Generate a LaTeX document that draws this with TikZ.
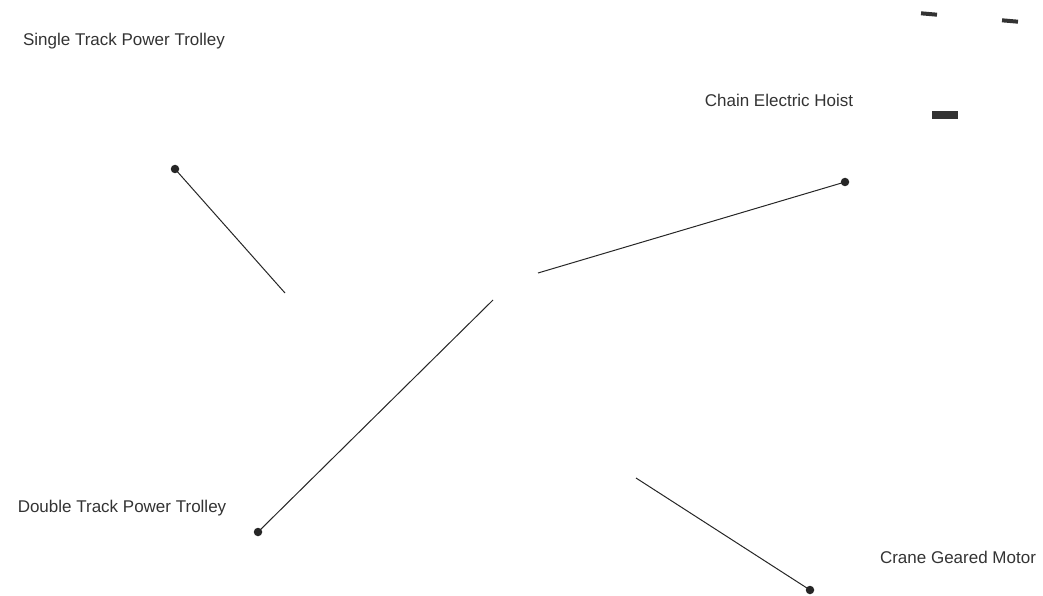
\documentclass[tikz,border=0pt]{standalone}
\usepackage{fontspec}
\setmainfont{Liberation Sans}
\begin{document}
\begin{tikzpicture}[x=1pt,y=-1pt,
  lbl/.style={text=black!80, font=\fontsize{17}{20}\selectfont, inner sep=0pt},
  dot/.style={circle, fill=black!85, inner sep=0pt, minimum size=8.5pt},
  lead/.style={draw=black!85, line width=1pt},
  blk/.style={fill=black!80, draw=none}]
\useasboundingbox (0,0) rectangle (1043,596);
\node[lbl] (t1) at (124,41) {Single Track Power Trolley};
\node[lbl] (t2) at (779,100) {Chain Electric Hoist};
\node[lbl] (t3) at (122,508) {Double Track Power Trolley};
\node[lbl] (t4) at (958,557) {Crane Geared Motor};
\node[dot] (d1) at (175,169) {};
\node[dot] (d2) at (845,182) {};
\node[dot] (d3) at (258,532) {};
\node[dot] (d4) at (810,590) {};
\coordinate (e1) at (285,293);
\coordinate (e2) at (538,273);
\coordinate (e3) at (493,300);
\coordinate (e4) at (636,478);
\draw[lead] (d1.center) -- (e1);
\draw[lead] (d2.center) -- (e2);
\draw[lead] (d3.center) -- (e3);
\draw[lead] (d4.center) -- (e4);
\fill[blk, rotate around={-5:(929,14)}] (921,12) rectangle (937,16);
\fill[blk, rotate around={-5:(1010,21)}] (1002,19) rectangle (1018,23);
\fill[blk] (932,111) rectangle (958,119);
\end{tikzpicture}
\end{document}
